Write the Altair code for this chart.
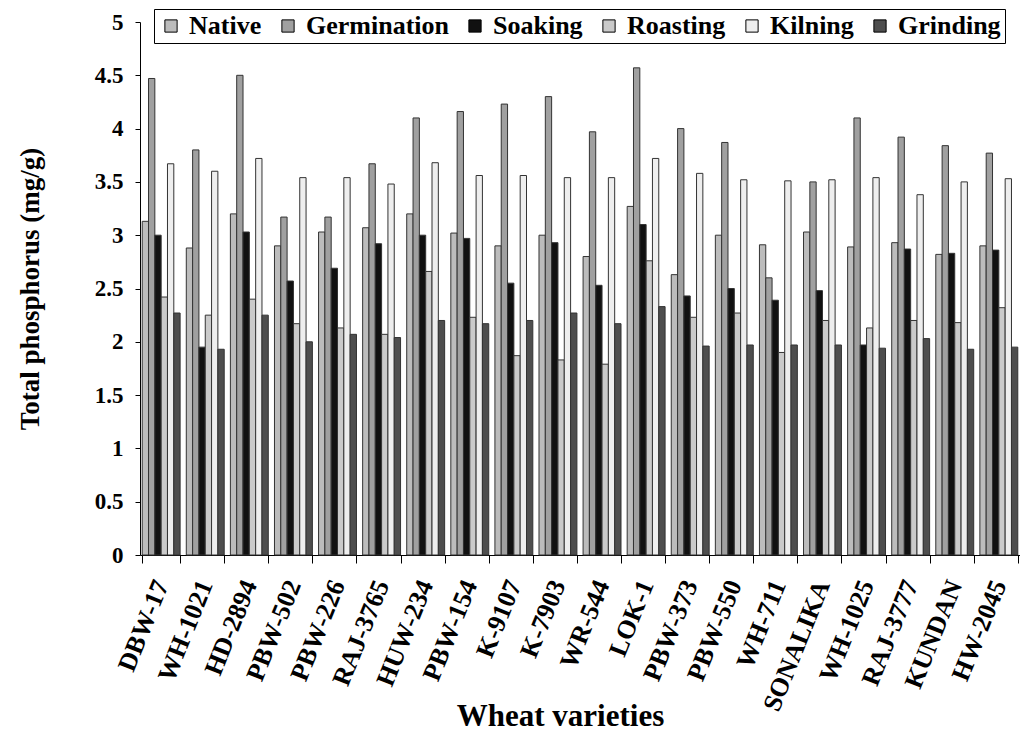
import altair as alt
import pandas as pd

varieties = ["DBW-17", "WH-1021", "HD-2894", "PBW-502", "PBW-226", "RAJ-3765", "HUW-234",
             "PBW-154", "K-9107", "K-7903", "WR-544", "LOK-1", "PBW-373", "PBW-550", "WH-711",
             "SONALIKA", "WH-1025", "RAJ-3777", "KUNDAN", "HW-2045"]
treatments = ["Native", "Germination", "Soaking", "Roasting", "Kilning", "Grinding"]

native      = [3.13, 2.88, 3.20, 2.90, 3.03, 3.07, 3.20, 3.02, 2.90, 3.00, 2.80, 3.27, 2.63, 3.00, 2.91, 3.03, 2.89, 2.93, 2.82, 2.90]
germination = [4.47, 3.80, 4.50, 3.17, 3.17, 3.67, 4.10, 4.16, 4.23, 4.30, 3.97, 4.57, 4.00, 3.87, 2.60, 3.50, 4.10, 3.92, 3.84, 3.77]
soaking     = [3.00, 1.95, 3.03, 2.57, 2.69, 2.92, 3.00, 2.97, 2.55, 2.93, 2.53, 3.10, 2.43, 2.50, 2.39, 2.48, 1.97, 2.87, 2.83, 2.86]
roasting    = [2.42, 2.25, 2.40, 2.17, 2.13, 2.07, 2.66, 2.23, 1.87, 1.83, 1.79, 2.76, 2.23, 2.27, 1.90, 2.20, 2.13, 2.20, 2.18, 2.32]
kilning     = [3.67, 3.60, 3.72, 3.54, 3.54, 3.48, 3.68, 3.56, 3.56, 3.54, 3.54, 3.72, 3.58, 3.52, 3.51, 3.52, 3.54, 3.38, 3.50, 3.53]
grinding    = [2.27, 1.93, 2.25, 2.00, 2.07, 2.04, 2.20, 2.17, 2.20, 2.27, 2.17, 2.33, 1.96, 1.97, 1.97, 1.97, 1.94, 2.03, 1.93, 1.95]

series = [native, germination, soaking, roasting, kilning, grinding]
rows = []
for t, vals in zip(treatments, series):
    for v, val in zip(varieties, vals):
        rows.append({"Variety": v, "Treatment": t, "Value": val})
df = pd.DataFrame(rows)

font = "Liberation Serif"
greys = ["#bcbcbc", "#a0a0a0", "#111111", "#cacaca", "#eeeeee", "#4e4e4e"]

chart = alt.Chart(df).mark_bar(stroke="#333333", strokeWidth=1).encode(
    x=alt.X("Variety:N", sort=varieties,
            scale=alt.Scale(paddingInner=0.14, paddingOuter=0.05),
            axis=alt.Axis(title="Wheat varieties", labelAngle=-68, labelFont=font,
                          labelFontWeight="bold", labelFontSize=26, labelColor="black",
                          labelPadding=18, tickBand="extent", tickSize=8, tickColor="black",
                          domainColor="black", titleFont=font, titleFontWeight="bold",
                          titleFontSize=31, titleColor="black", titleBaseline="alphabetic",
                          titleX=420, titleY=170)),
    xOffset=alt.XOffset("Treatment:N", sort=treatments, scale=alt.Scale(paddingInner=0, paddingOuter=0)),
    y=alt.Y("Value:Q", scale=alt.Scale(domain=[0, 5], nice=False),
            axis=alt.Axis(title="Total phosphorus (mg/g)", values=[0, 0.5, 1, 1.5, 2, 2.5, 3, 3.5, 4, 4.5, 5],
                          format=".1~f", grid=False, labelFont=font, labelFontWeight="bold",
                          labelFontSize=23, labelColor="black", labelPadding=12, tickSize=5,
                          tickColor="black", domainColor="black", titleFont=font,
                          titleFontWeight="bold", titleFontSize=27, titleColor="black",
                          titlePadding=50)),
    color=alt.Color("Treatment:N", sort=treatments,
                    scale=alt.Scale(domain=treatments, range=greys),
                    legend=alt.Legend(title=None, orient="none", direction="horizontal",
                                      legendX=14, legendY=-13, labelFont=font,
                                      labelFontWeight="bold", labelFontSize=26,
                                      labelColor="black", symbolType="square", symbolSize=150,
                                      symbolStrokeColor="black", symbolStrokeWidth=1,
                                      strokeColor="black", padding=4, columnPadding=13,
                                      labelOffset=5, labelLimit=300)),
).properties(
    width=880, height=533,
    autosize=alt.AutoSizeParams(type="none"),
    padding={"left": 132, "top": 14, "right": 0, "bottom": 200},
).configure(font=font, background="white").configure_view(stroke=None)

chart.save("out.html", embed_options={"renderer": "svg", "actions": False})
